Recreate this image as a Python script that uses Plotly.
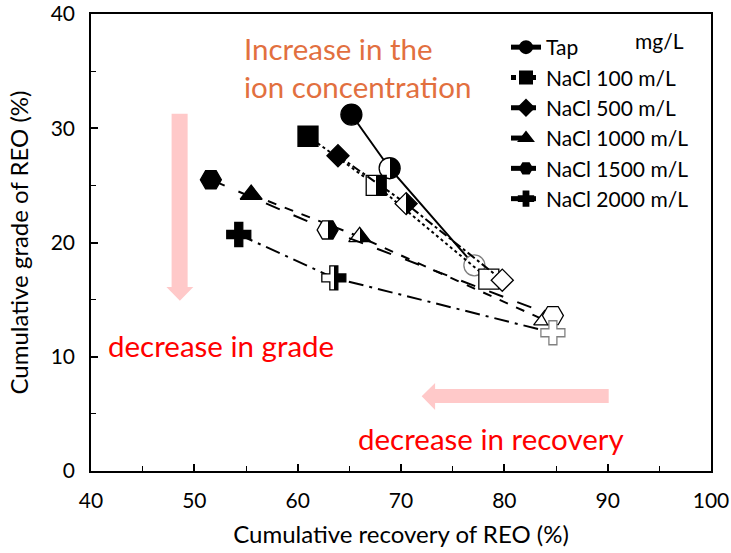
import plotly.graph_objects as go

series_names = ["Tap", "NaCl 100 m/L", "NaCl 500 m/L", "NaCl 1000 m/L", "NaCl 1500 m/L", "NaCl 2000 m/L"]
recovery = [
    [65.2, 68.9, 77.1],
    [61.0, 67.6, 78.5],
    [63.9, 70.5, 79.8],
    [55.5, 66.0, 83.9],
    [51.6, 62.9, 84.7],
    [54.3, 63.5, 84.7],
]
grade = [
    [31.2, 26.5, 18.0],
    [29.3, 25.0, 16.8],
    [27.6, 23.4, 16.7],
    [24.2, 20.5, 13.2],
    [25.5, 21.1, 13.6],
    [20.7, 16.9, 12.1],
]
symbols = ["circle", "square", "diamond", "triangle-up", "hexagon2", "cross"]
dashes = ["solid", "dot", "dashdot", "dash", "longdash", "longdashdot"]
sizes = [21, 20, 17, 19, 21, 20]
last_outline = ["#808080", "black", "black", "black", "black", "#808080"]

x_ticks = [40, 50, 60, 70, 80, 90, 100]
y_ticks = [0, 10, 20, 30, 40]

FONT = "Lato"
fig = go.Figure()
for i, name in enumerate(series_names):
    fig.add_trace(go.Scatter(
        x=recovery[i], y=grade[i], name=name, mode="lines+markers",
        line=dict(color="black", width=2, dash=dashes[i]),
        marker=dict(
            symbol=symbols[i], size=sizes[i],
            color=["black", "white", "white"],
            gradient=dict(type=["none", "horizontal", "none"], color="black"),
            line=dict(color=["black", "black", last_outline[i]], width=1.3),
        ),
    ))

# decorative arrows (light pink)
pink = "#FFC9C9"
fig.add_shape(type="path", xref="x", yref="y", line=dict(width=0), fillcolor=pink, layer="below",
              path="M47.8,31.26 L49.35,31.26 L49.35,16.1 L49.9,16.1 L48.6,14.9 L47.3,16.1 L47.8,16.1 Z")
fig.add_shape(type="path", xref="x", yref="y", line=dict(width=0), fillcolor=pink, layer="below",
              path="M90.1,7.18 L90.1,5.95 L73.3,5.95 L73.3,5.34 L72.0,6.55 L73.3,7.7 L73.3,7.18 Z")

PL, PR, PT, PB = 91, 711, 14, 471
def px(xp):
    return (xp - PL) / (PR - PL)
def py(yp):
    return (PB - yp) / (PB - PT)

fig.add_annotation(x=px(242), y=py(29), xref="paper", yref="paper", showarrow=False,
                   text="Increase in the<br>ion concentration", align="left",
                   xanchor="left", yanchor="top",
                   font=dict(family=FONT, size=29.5, color="#E2703F"))
fig.add_annotation(x=px(106), y=py(345), xref="paper", yref="paper",
                   showarrow=False, text="decrease in grade", xanchor="left", yanchor="middle",
                   font=dict(family=FONT, size=29.5, color="#FF0000"))
fig.add_annotation(x=px(356), y=py(438), xref="paper", yref="paper",
                   showarrow=False, text="decrease in recovery", xanchor="left", yanchor="middle",
                   font=dict(family=FONT, size=29.5, color="#FF0000"))
fig.add_annotation(x=px(633), y=py(40), xref="paper", yref="paper",
                   showarrow=False, text="mg/L", xanchor="left", yanchor="middle",
                   font=dict(family=FONT, size=21, color="black"))

axis_common = dict(
    showgrid=False, zeroline=False, showline=True, linecolor="black", linewidth=1.5,
    mirror=True, ticks="inside", ticklen=7, tickwidth=1.5, tickcolor="black",
    tickfont=dict(family=FONT, size=21, color="black"), automargin=False,
    minor=dict(ticks="inside", ticklen=5, tickwidth=1.2, tickcolor="black", dtick=5),
)
fig.update_xaxes(range=[40, 100], tickvals=x_ticks, ticktext=[str(v) for v in x_ticks],
                 ticklabelstandoff=10,
                 title=dict(text="Cumulative recovery of REO (%)", font=dict(family=FONT, size=24, color="black")),
                 **axis_common)
fig.update_yaxes(range=[0, 40], tickvals=y_ticks, ticktext=[str(v) for v in y_ticks],
                 ticklabelstandoff=10,
                 title=dict(text="Cumulative grade of REO (%)", font=dict(family=FONT, size=24, color="black")),
                 **axis_common)

fig.update_layout(
    width=731, height=553,
    margin=dict(l=PL, r=731 - PR, t=PT, b=553 - PB),
    plot_bgcolor="white", paper_bgcolor="white",
    font=dict(family=FONT, color="black"),
    legend=dict(x=px(506), y=py(27), xanchor="left", yanchor="top",
                bgcolor="rgba(0,0,0,0)", font=dict(family=FONT, size=21, color="black"),
                itemsizing="constant", tracegroupgap=0),
)

# page margin reset + hard half split for the horizontal gradients (half-filled markers)
post = """
document.body.style.margin = '0';
document.documentElement.style.margin = '0';
document.body.style.overflow = 'hidden';
var gd = document.getElementById('{plot_id}');
function halfFill(){
  gd.querySelectorAll('linearGradient').forEach(function(g){
    var st = g.querySelectorAll('stop');
    if(st.length === 2){ st[0].setAttribute('offset','50%'); st[1].setAttribute('offset','50%'); }
  });
}
halfFill();
gd.on('plotly_afterplot', halfFill);
"""
fig.write_html("out.html", post_script=post, config={"displayModeBar": False})
